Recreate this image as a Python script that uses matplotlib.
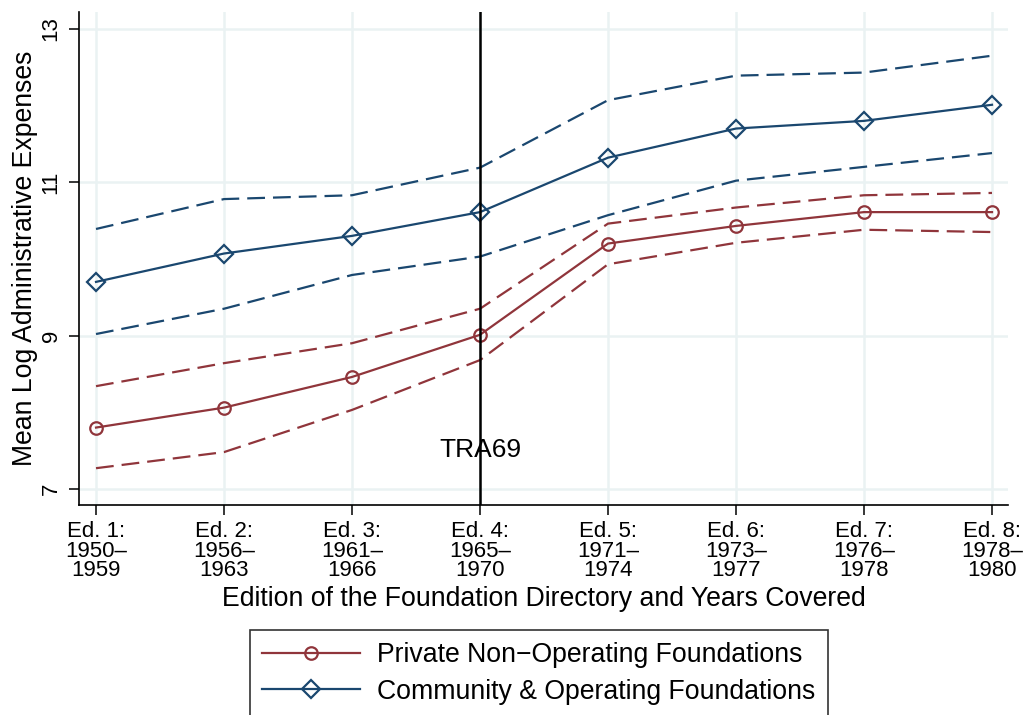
import matplotlib
matplotlib.use("Agg")
import matplotlib.pyplot as plt
from matplotlib.lines import Line2D

plt.rcParams['font.family'] = ['Liberation Sans', 'DejaVu Sans']

editions = [1, 2, 3, 4, 5, 6, 7, 8]
edition_labels = ["Ed. 1:\n1950\u2013\n1959", "Ed. 2:\n1956\u2013\n1963", "Ed. 3:\n1961\u2013\n1966",
                  "Ed. 4:\n1965\u2013\n1970", "Ed. 5:\n1971\u2013\n1974", "Ed. 6:\n1973\u2013\n1977",
                  "Ed. 7:\n1976\u2013\n1978", "Ed. 8:\n1978\u2013\n1980"]

private_mean = [7.80, 8.06, 8.46, 9.01, 10.20, 10.43, 10.61, 10.61]
private_upper = [8.34, 8.64, 8.90, 9.35, 10.46, 10.67, 10.83, 10.86]
private_lower = [7.27, 7.48, 8.03, 8.68, 9.93, 10.21, 10.38, 10.35]

community_mean = [9.70, 10.07, 10.30, 10.61, 11.32, 11.70, 11.80, 12.01]
community_upper = [10.39, 10.78, 10.83, 11.19, 12.07, 12.39, 12.43, 12.65]
community_lower = [9.02, 9.35, 9.79, 10.03, 10.57, 11.02, 11.20, 11.38]

reform_edition = 4
y_ticks = [7, 9, 11, 13]

red = "#90353b"
blue = "#1a476f"
grid_c = "#eaf2f3"

fig = plt.figure(figsize=(10.24, 7.15), dpi=100)
ax = fig.add_axes([79/1024, 1 - 505/715, (1008 - 79)/1024, (505 - 12)/715])

ax.set_xlim(0.867, 8.125)
ax.set_ylim(6.79, 13.22)

for x in editions:
    ax.axvline(x, color=grid_c, lw=1.8, zorder=0)
for y in y_ticks:
    ax.axhline(y, color=grid_c, lw=1.8, zorder=0)

# confidence bands as dashed lines
dash = (0, (8, 3.6))
ax.plot(editions, community_upper, color=blue, lw=1.6, linestyle=dash, zorder=2)
ax.plot(editions, community_lower, color=blue, lw=1.6, linestyle=dash, zorder=2)
ax.plot(editions, private_upper, color=red, lw=1.6, linestyle=dash, zorder=2)
ax.plot(editions, private_lower, color=red, lw=1.6, linestyle=dash, zorder=2)

ax.plot(editions, private_mean, color=red, lw=1.6, marker="o", markersize=9,
        markerfacecolor="none", markeredgewidth=1.6, zorder=3)
ax.plot(editions, community_mean, color=blue, lw=1.6, marker="D", markersize=9,
        markerfacecolor="none", markeredgewidth=1.6, zorder=3)

ax.axvline(reform_edition, color="black", lw=1.8, zorder=4)
ax.text(reform_edition, 7.51, "TRA69", ha="center", va="center", fontsize=19, zorder=5)

for s in ["top", "right"]:
    ax.spines[s].set_visible(False)
for s in ["left", "bottom"]:
    ax.spines[s].set_linewidth(1.2)

ax.set_xticks(editions)
ax.set_xticklabels(edition_labels, fontsize=16, linespacing=0.92)
ax.set_yticks(y_ticks)
ax.set_yticklabels([str(v) for v in y_ticks], fontsize=16, rotation=90, va="center")
ax.tick_params(axis="both", length=7.5, width=1.1, direction="out")
ax.tick_params(axis="x", pad=4)
ax.tick_params(axis="y", pad=5)

ax.set_xlabel("Edition of the Foundation Directory and Years Covered", fontsize=19.2, va="center")
ax.set_ylabel("Mean Log Administrative Expenses", fontsize=19.2, va="center")
ax.xaxis.set_label_coords((544 - 79) / 929, (505 - 599) / 493)
ax.yaxis.set_label_coords((25 - 79) / 929, (505 - 258) / 493)

handles = [
    Line2D([0], [0], color=red, lw=1.6, marker="o", markersize=9, markerfacecolor="none", markeredgewidth=1.6),
    Line2D([0], [0], color=blue, lw=1.6, marker="D", markersize=9, markerfacecolor="none", markeredgewidth=1.6),
]
leg = fig.legend(handles, ["Private Non\u2212Operating Foundations", "Community & Operating Foundations"],
                 loc="upper left", bbox_to_anchor=(250/1024, 1 - 630/715), fontsize=19.2,
                 frameon=True, fancybox=False, handlelength=3.66, borderpad=0.45,
                 labelspacing=0.4, handletextpad=0.67, borderaxespad=0)
leg.get_frame().set_edgecolor("black")
leg.get_frame().set_linewidth(1.2)

fig.savefig("out.png", dpi=100, facecolor="white")
